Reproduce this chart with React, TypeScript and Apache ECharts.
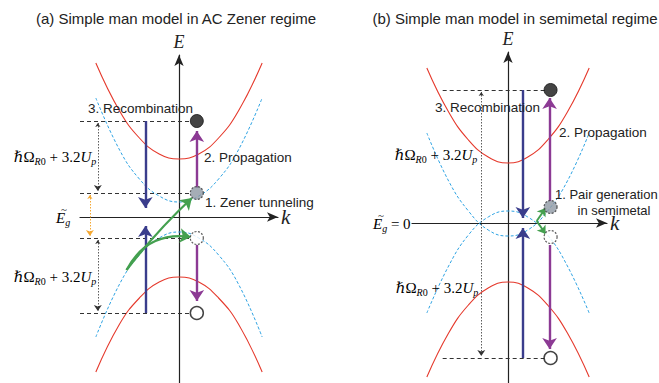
import { useEffect, useRef } from 'react';
import * as echarts from 'echarts';

// ---------- Panel (a): AC Zener regime ----------
const kA = [-0.84, -0.6, -0.4, -0.2, 0, 0.2, 0.4, 0.6, 0.84];
const redUpA = [1.54, 1.06, 0.79, 0.63, 0.58, 0.63, 0.79, 1.06, 1.54];
const redLowA = [-1.55, -1.07, -0.81, -0.65, -0.6, -0.65, -0.81, -1.07, -1.55];
const blueUpA = [1.19, 0.67, 0.38, 0.21, 0.15, 0.21, 0.38, 0.67, 1.19];
const blueLowA = [-1.2, -0.67, -0.38, -0.21, -0.15, -0.21, -0.38, -0.67, -1.2];
const levelsA = [0.96, 0.24, -0.21, -0.96];
const levelSpanA = [-1, 0.12];
const kElecA = 0.18;
const elecA = [0.96, 0.24, -0.21, -0.96];
const kRecA = -0.34;
const recA = [[0.96, 0.09], [-0.96, -0.09]];
const kPropA = 0.18;
const propA = [[0.29, 0.86], [-0.28, -0.84]];
const genStartA = [-0.53, -0.53];
const genEndA = [[0.13, 0.19], [0.12, -0.2]];
const kSpanA = -0.82;
const spanA = [[0.94, 0.26], [-0.23, -0.94]];
const kGapA = -0.9;
const gapA = [0.22, -0.19];

// ---------- Panel (b): semimetal regime ----------
const kB = [-0.82, -0.6, -0.4, -0.2, 0, 0.2, 0.4, 0.6, 0.82];
const redUpB = [1.55, 1.11, 0.83, 0.66, 0.6, 0.66, 0.83, 1.11, 1.55];
const redLowB = [-1.54, -1.1, -0.82, -0.65, -0.59, -0.65, -0.82, -1.1, -1.54];
const blueUpB = [0.9, 0.42, 0.12, -0.07, -0.13, -0.07, 0.12, 0.42, 0.9];
const blueDownB = [-0.9, -0.43, -0.12, 0.06, 0.12, 0.06, -0.12, -0.43, -0.9];
const levelsB = [1.33, -1.35];
const levelSpanB = [-0.66, 0.38];
const kElecB = 0.43;
const elecB = [1.33, 0.16, -0.14, -1.35];
const kRecB = 0.15;
const recB = [[1.33, 0.05], [-1.35, -0.05]];
const kPropB = 0.42;
const propB = [[0.22, 1.25], [-0.22, -1.26]];
const genStartB = [0.29, 0.02];
const genEndB = [[0.38, 0.15], [0.38, -0.11]];
const kSpanB = -0.27;
const spanB = [[1.31, -1.33]];

const RED = '#e5392c';
const BLUE = '#2ea3e3';
const NAVY = '#3a3d8c';
const PURPLE = '#8c3a94';
const GREEN = '#44a04f';
const ORANGE = '#f4a833';
const INK = '#222';

const SANS = "'Liberation Sans', Arial, sans-serif";
const SERIF = "'Liberation Serif', 'DejaVu Serif', serif";

function curve(ks: number[], es: number[], color: string, dashed: boolean, g: number) {
  return {
    type: 'line',
    xAxisIndex: g,
    yAxisIndex: g,
    data: ks.map((k, i) => [k, es[i]]),
    smooth: 0.45,
    showSymbol: false,
    silent: true,
    lineStyle: dashed
      ? { color, width: 1, type: [3, 2] }
      : { color, width: 1.1 },
    z: 2,
  };
}

function segs(coords: number[][][], g: number, color: string, width: number, symbol: any, size: any, type: any = 'solid', curveness = 0, z = 3) {
  return {
    type: 'lines',
    coordinateSystem: 'cartesian2d',
    xAxisIndex: g,
    yAxisIndex: g,
    symbol,
    symbolSize: size,
    silent: true,
    lineStyle: { color, width, type, opacity: 1, curveness },
    data: coords.map((c) => ({ coords: c })),
    z,
  };
}

function circles(k: number, es: number[], g: number) {
  const styles = [
    { color: '#151515', borderColor: '#151515', borderWidth: 1 },
    { color: '#8e99a4', borderColor: '#333', borderWidth: 1.2, borderType: [2, 1.5] },
    { color: '#fff', borderColor: '#333', borderWidth: 1.2, borderType: [2, 1.5] },
    { color: '#fff', borderColor: '#151515', borderWidth: 1.5 },
  ];
  return {
    type: 'scatter',
    xAxisIndex: g,
    yAxisIndex: g,
    symbol: 'circle',
    symbolSize: 13,
    silent: true,
    z: 6,
    data: es.map((e, i) => ({ value: [k, e], itemStyle: styles[i] })),
  };
}

function axisPair(g: number, xmin: number, xmax: number, ymin: number, ymax: number) {
  const line = { show: true, onZero: true, symbol: ['none', 'arrow'], symbolSize: [7, 11], lineStyle: { color: INK, width: 1.2 } };
  return {
    x: {
      type: 'value', gridIndex: g, min: xmin, max: xmax,
      axisLine: line, axisTick: { show: false }, axisLabel: { show: false }, splitLine: { show: false },
      name: 'k', nameLocation: 'end', nameGap: 3,
      nameTextStyle: { fontFamily: SERIF, fontStyle: 'italic', fontSize: 21, color: INK },
    },
    y: {
      type: 'value', gridIndex: g, min: ymin, max: ymax,
      axisLine: line, axisTick: { show: false }, axisLabel: { show: false }, splitLine: { show: false },
      name: 'E', nameLocation: 'end', nameGap: 4,
      nameTextStyle: { fontFamily: SERIF, fontStyle: 'italic', fontSize: 18, color: INK },
    },
  };
}

const mathRich = {
  m: { fontFamily: SERIF, fontSize: 15, lineHeight: 18, color: INK, verticalAlign: 'middle' },
  i: { fontFamily: SERIF, fontStyle: 'italic', fontSize: 15, lineHeight: 18, color: INK, verticalAlign: 'middle' },
  s: { fontFamily: SERIF, fontStyle: 'italic', fontSize: 10, lineHeight: 14, color: INK, verticalAlign: 'bottom', padding: [6, 0, 0, 0] },
  su: { fontFamily: SERIF, fontSize: 10, lineHeight: 14, color: INK, verticalAlign: 'bottom', padding: [6, 0, 0, 0] },
};
const hbarText = '{i|ℏ}{m|Ω}{s|R}{su|0}{m| + 3.2}{i|U}{s|p}';

function label(text: string, x: number, y: number, align = 'left', size = 13.5) {
  return {
    type: 'text', x, y, silent: true, z: 10,
    style: { text, fill: INK, font: `${size}px ${SANS}`, align, verticalAlign: 'middle' },
  };
}
function mathLabel(text: string, x: number, y: number, align = 'center') {
  return {
    type: 'text', x, y, silent: true, z: 10,
    style: { text, align, verticalAlign: 'middle', font: `15px ${SERIF}`, rich: mathRich },
  };
}
function tilde(x: number, y: number) {
  return {
    type: 'text', x, y, silent: true, z: 10,
    style: { text: '~', fill: INK, font: `11px ${SERIF}`, align: 'center', verticalAlign: 'middle' },
  };
}

export default function App() {
  const ref = useRef<HTMLDivElement>(null);
  useEffect(() => {
    if (!ref.current) return;
    const chart = echarts.init(ref.current, null, { renderer: 'svg' });
    const a = axisPair(0, -1, 1, -1.66, 1.62);
    const b = axisPair(1, -0.97, 1, -1.6, 1.71);
    const series: any[] = [
      // panel (a)
      curve(kA, blueUpA, BLUE, true, 0),
      curve(kA, blueLowA, BLUE, true, 0),
      curve(kA, redUpA, RED, false, 0),
      curve(kA, redLowA, RED, false, 0),
      segs(levelsA.map((e) => [[levelSpanA[0], e], [levelSpanA[1], e]]), 0, '#333', 1, 'none', 0, [4, 3]),
      segs(spanA.map((s) => [[kSpanA, s[0]], [kSpanA, s[1]]]), 0, '#333', 0.8, ['arrow', 'arrow'], [4, 6], [1.5, 1.5]),
      segs([[[kGapA, gapA[0]], [kGapA, gapA[1]]]], 0, ORANGE, 1, ['arrow', 'arrow'], [4, 6], [1.5, 1.5]),
      segs(recA.map((r) => [[kRecA, r[0]], [kRecA, r[1]]]), 0, NAVY, 2.4, ['none', 'arrow'], [9, 11]),
      segs(propA.map((p) => [[kPropA, p[0]], [kPropA, p[1]]]), 0, PURPLE, 2.4, ['none', 'arrow'], [9, 11]),
      segs([[genStartA, genEndA[0]]], 0, GREEN, 2.2, ['none', 'arrow'], [9, 11], 'solid', 0.04),
      segs([[genStartA, genEndA[1]]], 0, GREEN, 2.2, ['none', 'arrow'], [9, 11], 'solid', 0.35),
      circles(kElecA, elecA, 0),
      // panel (b)
      curve(kB, blueUpB, BLUE, true, 1),
      curve(kB, blueDownB, BLUE, true, 1),
      curve(kB, redUpB, RED, false, 1),
      curve(kB, redLowB, RED, false, 1),
      segs(levelsB.map((e) => [[levelSpanB[0], e], [levelSpanB[1], e]]), 1, '#333', 1, 'none', 0, [4, 3]),
      segs(spanB.map((s) => [[kSpanB, s[0]], [kSpanB, s[1]]]), 1, '#333', 0.8, ['arrow', 'arrow'], [4, 6], [1.5, 1.5]),
      segs(recB.map((r) => [[kRecB, r[0]], [kRecB, r[1]]]), 1, NAVY, 2.4, ['none', 'arrow'], [9, 11]),
      segs(propB.map((p) => [[kPropB, p[0]], [kPropB, p[1]]]), 1, PURPLE, 2.4, ['none', 'arrow'], [9, 11]),
      segs(genEndB.map((e) => [genStartB, e]), 1, GREEN, 2, ['none', 'arrow'], [7, 8]),
      circles(kElecB, elecB, 1),
    ];
    chart.setOption({
      animation: false,
      backgroundColor: '#fff',
      grid: [
        { left: 80, top: 55, width: 198, height: 328 },
        { left: 412, top: 52, width: 195, height: 331 },
      ],
      xAxis: [a.x, b.x],
      yAxis: [a.y, b.y],
      series,
      graphic: [
        label('(a) Simple man model in AC Zener regime', 176, 18, 'center', 15),
        label('(b) Simple man model in semimetal regime', 515, 18, 'center', 15),
        label('3. Recombination', 88, 108),
        label('2. Propagation', 204, 157),
        label('1. Zener tunneling', 205, 202),
        label('3. Recombination', 435, 107),
        label('2. Propagation', 559, 132),
        label('1. Pair generation', 555, 194, 'left', 13),
        label('in semimetal', 614, 210, 'center', 13),
        mathLabel(hbarText, 55, 157),
        mathLabel(hbarText, 55, 277),
        mathLabel(hbarText, 436, 155),
        mathLabel(hbarText, 437, 288),
        mathLabel('{i|E}{s|g}', 56, 218, 'left'),
        tilde(64, 209),
        mathLabel('{i|E}{s|g}{m| = 0}', 373, 224, 'left'),
        tilde(381, 215),
      ],
    });
    return () => chart.dispose();
  }, []);
  return <div ref={ref} style={{ width: 659, height: 383, position: 'absolute', left: 0, top: 0 }} />;
}
